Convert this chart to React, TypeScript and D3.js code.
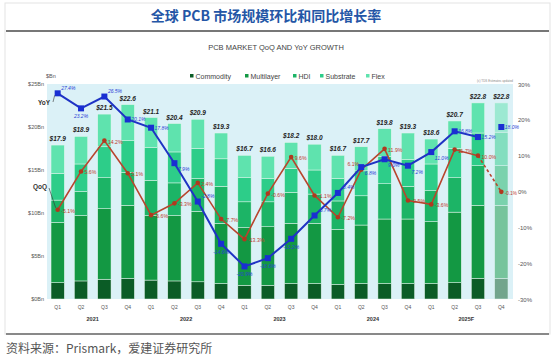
import * as d3 from "d3";

// quarters and years
const quarters = [
  "Q1", "Q2", "Q3", "Q4", "Q1", "Q2", "Q3", "Q4", "Q1", "Q2",
  "Q3", "Q4", "Q1", "Q2", "Q3", "Q4", "Q1", "Q2", "Q3", "Q4",
];
const years = ["2021", "2022", "2023", "2024", "2025F"];

// segment values, $Bn
const commodity = [1.9, 2.1, 2.3, 2.4, 2.2, 2.1, 2.0, 1.8, 1.6, 1.6, 1.8, 1.8, 1.7, 1.8, 1.8, 1.8, 1.8, 1.9, 2.4, 2.4];
const multilayer = [7.0, 7.6, 8.2, 8.5, 7.5, 7.6, 8.2, 7.0, 6.7, 6.8, 7.0, 7.0, 6.4, 6.8, 7.5, 7.5, 7.2, 8.2, 8.5, 8.5];
const hdi = [2.6, 2.8, 3.6, 3.8, 4.1, 3.8, 3.8, 4.3, 3.0, 2.9, 3.6, 3.4, 3.3, 3.4, 4.1, 3.8, 3.6, 4.0, 4.6, 4.6];
const substrate = [3.1, 3.2, 3.6, 3.7, 3.8, 3.6, 3.5, 3.2, 2.8, 2.7, 2.8, 2.8, 2.6, 2.9, 3.2, 3.1, 3.1, 3.4, 3.8, 3.9];
const flex = [3.3, 3.2, 3.8, 4.2, 3.5, 3.3, 3.4, 3.0, 2.6, 2.6, 3.0, 3.0, 2.7, 2.8, 3.2, 3.1, 2.9, 3.2, 3.5, 3.4];
const totals = [17.9, 18.9, 21.5, 22.6, 21.1, 20.4, 20.9, 19.3, 16.7, 16.6, 18.2, 18.0, 16.7, 17.7, 19.8, 19.3, 18.6, 20.7, 22.8, 22.8];

// growth rates, %
const yoy = [27.4, 23.2, 26.5, 20.1, 17.8, 7.9, -2.8, -14.6, -20.9, -18.6, -13.2, -6.7, -0.4, 6.8, 9.0, 7.2, 11.0, 16.8, 15.2, 18.0];
const qoq = [-5.1, 5.6, 14.2, 5.1, -6.6, -3.3, 2.4, -7.7, -13.3, -0.6, 9.6, -1.1, -7.2, 6.1, 11.9, -2.5, -3.6, 11.7, 10.0, -0.1];

const seriesNames = ["Commodity", "Multilayer", "HDI", "Substrate", "Flex"];
const seriesColors = ["#0b5c26", "#139843", "#1cb466", "#2dcd89", "#5fe3ae"];

const W = 554;
const H = 358;
const plotTop = 84;
const plotBottom = 299;
const font = "'Liberation Sans', Arial, sans-serif";
const cjk = "'Noto Sans CJK SC', sans-serif";

export default function App() {
  const idx = quarters.map((_, i) => i);
  const x = d3.scaleBand<number>().domain(idx).range([46, 513]).paddingInner(0.43).paddingOuter(0.215);
  const yL = d3.scaleLinear().domain([0, 25]).range([plotBottom, plotTop]);
  const yR = d3.scaleLinear().domain([-30, 30]).range([plotBottom, plotTop]);
  const cx = (i: number) => (x(i) as number) + x.bandwidth() / 2;

  const rows = idx.map((i) => ({
    i,
    Commodity: commodity[i],
    Multilayer: multilayer[i],
    HDI: hdi[i],
    Substrate: substrate[i],
    Flex: flex[i],
  }));
  const stacked = d3.stack<any>().keys(seriesNames)(rows);

  const line = d3.line<number>().x((d, i) => cx(i)).y((d) => yR(d));
  const n = quarters.length;

  const legendX = [190, 245, 293, 320, 366];

  return (
    <svg width={W} height={H} style={{ position: "absolute", left: 0, top: 0, background: "#fff" }}>
      <rect x={5} y={3} width={545} height={331} fill="none" stroke="#e3e3e3" strokeWidth={1} />
      <text x={266} y={21} textAnchor="middle" fontFamily={cjk} fontWeight="bold" fontSize={14} fill="#2456a6">
        全球 PCB  市场规模环比和同比增长率
      </text>
      <line x1={6} x2={549} y1={31} y2={31} stroke="#777" strokeWidth={2} />
      <text x={276} y={50} textAnchor="middle" fontFamily={font} fontSize={7.5} fill="#444">
        PCB MARKET QoQ AND YoY GROWTH
      </text>

      {/* legend */}
      {seriesNames.map((s, k) => (
        <g key={s} transform={`translate(${legendX[k]},77)`}>
          <rect x={0} y={-3} width={3.5} height={3.5} fill={seriesColors[k]} />
          <text x={5.5} y={1.5} fontFamily={font} fontSize={7} fill="#444">{s}</text>
        </g>
      ))}
      <text x={46} y={78} fontFamily={font} fontSize={5.5} fill="#555">$Bn</text>
      <text x={513} y={82} textAnchor="end" fontFamily={font} fontSize={3} fill="#888">(c) TDS Estimates updated</text>

      {/* plot background */}
      <rect x={47} y={plotTop} width={466} height={plotBottom - plotTop} fill="#dbf1f7" />

      {/* left axis */}
      {yL.ticks(5).map((t) => (
        <text key={t} x={44} y={yL(t) + 2} textAnchor="end" fontFamily={font} fontSize={5.5} fill="#555">
          ${t}Bn
        </text>
      ))}
      {/* right axis */}
      {yR.ticks(6).map((t) => (
        <text key={t} x={518} y={yR(t) + 2.5} fontFamily={font} fontSize={6} fill="#555">
          {t}%
        </text>
      ))}

      {/* stacked bars */}
      {idx.map((i) => (
        <g key={i} opacity={i === n - 1 ? 0.5 : 1}>
          {stacked.map((layer, k) => {
            const d = layer[i];
            return (
              <rect
                key={k}
                x={x(i)}
                y={yL(d[1])}
                width={x.bandwidth()}
                height={yL(d[0]) - yL(d[1])}
                fill={seriesColors[k]}
                stroke="#e6f6ee"
                strokeWidth={0.5}
              />
            );
          })}
        </g>
      ))}

      {/* bar totals */}
      {totals.map((v, i) => (
        <text key={i} x={cx(i)} y={yL(v) - 4} textAnchor="middle" fontFamily={font} fontSize={6.5}
          fontWeight="bold" fontStyle="italic" fill="#222">
          ${v.toFixed(1)}
        </text>
      ))}

      {/* QoQ line */}
      <path d={line(qoq.slice(0, n - 1)) as string} fill="none" stroke="#b8452d" strokeWidth={1.6} />
      <path d={`M${cx(n - 2)},${yR(qoq[n - 2])}L${cx(n - 1)},${yR(qoq[n - 1])}`} fill="none" stroke="#b8452d"
        strokeWidth={1.6} strokeDasharray="3,2.5" />
      {qoq.map((v, i) => {
        // move the label above-left when it would sit on the YoY label
        const clash = Math.abs(yR(v) - yR(yoy[i])) < 8 && i < n - 1;
        return (
          <g key={i}>
            <circle cx={cx(i)} cy={yR(v)} r={2.3} fill="#b0391f" />
            <text
              x={clash ? cx(i) - 2 : cx(i) + 3.5}
              y={clash ? yR(v) - 4 : yR(v) + 3}
              textAnchor={clash ? "end" : "start"}
              fontFamily={font} fontSize={i === n - 1 ? 4.6 : 5.2} fill="#c0392b">
              {v.toFixed(1)}%
            </text>
          </g>
        );
      })}

      {/* YoY line */}
      <path d={line(yoy.slice(0, n - 1)) as string} fill="none" stroke="#1f33c4" strokeWidth={2} />
      {yoy.map((v, i) => {
        const below = v < -10 || i === 1;
        const dy = v > 22 ? -3.5 : v >= 12 ? 2 : v > 0 ? 8 : -3.5;
        return (
          <g key={i}>
            <rect x={cx(i) - 3} y={yR(v) - 3} width={6} height={6} fill="#1a2fd2" />
            <text
              x={below ? cx(i) : cx(i) + 3.5}
              y={below ? yR(v) + 10 : yR(v) + dy}
              textAnchor={below ? "middle" : "start"}
              fontFamily={font} fontSize={5} fontStyle="italic" fill="#2a3fd6">
              {v.toFixed(1)}%
            </text>
          </g>
        );
      })}

      {/* series callouts */}
      <text x={38} y={105} fontFamily={font} fontSize={6.5} fontWeight="bold" fill="#333">YoY</text>
      <line x1={53} y1={102} x2={cx(0) - 3} y2={yR(yoy[0]) + 2} stroke="#333" strokeWidth={0.6} />
      <text x={33} y={189} fontFamily={font} fontSize={6.5} fontWeight="bold" fill="#333">QoQ</text>
      <line x1={49} y1={188} x2={cx(0) - 2} y2={yR(qoq[0]) - 2} stroke="#333" strokeWidth={0.6} />

      {/* x axis labels */}
      {quarters.map((q, i) => (
        <text key={i} x={cx(i)} y={309} textAnchor="middle" fontFamily={font} fontSize={5} fill="#555">{q}</text>
      ))}
      {years.map((yr, k) => (
        <text key={yr} x={(cx(k * 4 + 1) + cx(k * 4 + 2)) / 2} y={321} textAnchor="middle" fontFamily={font}
          fontSize={5.5} fontWeight="bold" fill="#333">
          {yr}
        </text>
      ))}

      <line x1={6} x2={549} y1={334} y2={334} stroke="#666" strokeWidth={1.5} />
      <text x={6} y={353} fontFamily={cjk} fontSize={12} fill="#555">资料来源：Prismark，爱建证券研究所</text>
    </svg>
  );
}
